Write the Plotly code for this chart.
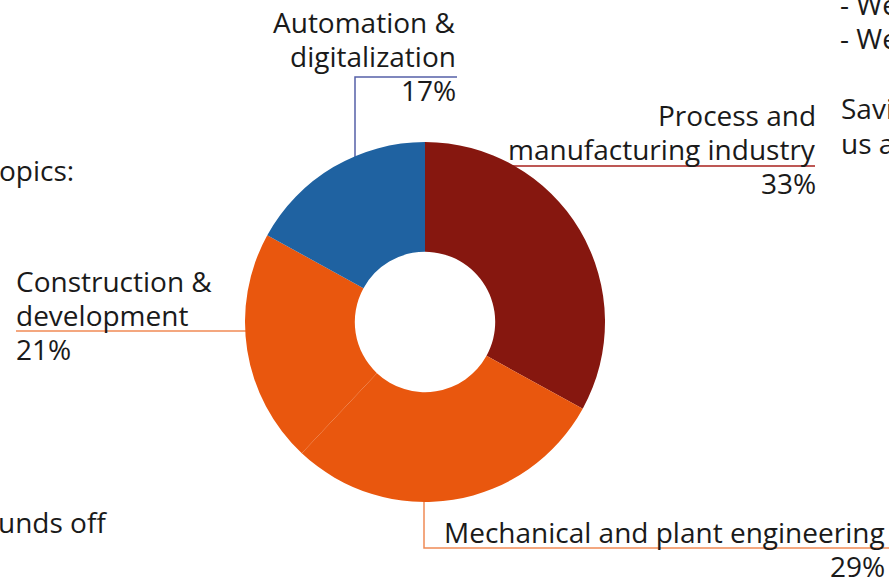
import plotly.graph_objects as go

W, H = 889, 577

# Data
labels = ["Process and<br>manufacturing industry",
          "Mechanical and plant engineering",
          "Construction &<br>development",
          "Automation &<br>digitalization"]
values = [33, 29, 21, 17]
colors = ["#86170F", "#E9570E", "#E9570E", "#1F62A1"]
line_colors = ["#A8201C", "#F08A55", "#F08A55", "#5560A8"]

# Surrounding page text fragments (cut by the frame)
frag_texts = ["opics:", "unds off", "- We", "- We", "Savi", "us a"]


def px(x):
    return x / W


def py(y):
    return 1 - y / H


cx, cy, R = 425, 322, 180

fig = go.Figure(go.Pie(
    labels=[l.replace("<br>", " ") for l in labels],
    values=values,
    hole=0.39,
    sort=False,
    direction="clockwise",
    rotation=0,
    textinfo="none",
    hoverinfo="label+percent",
    marker=dict(colors=colors, line=dict(width=0)),
    domain=dict(x=[px(cx - R), px(cx + R)], y=[py(cy + R), py(cy - R)]),
    showlegend=False,
))

font = dict(family="Open Sans, Noto Sans, sans-serif", size=28, color="#1a1a1a")
LS = 34  # line spacing in px

# label placements: x anchor, first-line centre y
label_pos = [
    dict(x=817, y=115, xanchor="right"),
    dict(x=886, y=532, xanchor="right"),
    dict(x=15, y=281, xanchor="left"),
    dict(x=457, y=22, xanchor="right"),
]
leader_paths = [
    [(503, 166), (815, 166)],
    [(424, 500), (424, 548), (889, 548)],
    [(16, 331), (246, 331)],
    [(457, 77), (355, 77), (355, 157)],
]

annotations = []
shapes = []
for lab, val, pos, path, lc in zip(labels, values, label_pos, leader_paths, line_colors):
    lines = lab.split("<br>") + [f"{val}%"]
    for i, t in enumerate(lines):
        annotations.append(dict(
            x=px(pos["x"]), y=py(pos["y"] + i * LS), xref="paper", yref="paper",
            xanchor=pos["xanchor"], yanchor="middle", borderpad=0,
            text=t, showarrow=False, font=font,
        ))
    d = "M " + " L ".join(f"{px(x)} {py(y)}" for x, y in path)
    shapes.append(dict(type="path", xref="paper", yref="paper", path=d,
                       line=dict(color=lc, width=1.5), layer="below"))

frag_pos = [(-2, 170), (-3, 522), (839, 4), (839, 38), (840, 108), (840, 143)]
for t, (x, y) in zip(frag_texts, frag_pos):
    annotations.append(dict(
        x=px(x), y=py(y), xref="paper", yref="paper", xanchor="left",
        yanchor="middle", borderpad=0, text=t, showarrow=False, font=font,
    ))

fig.update_layout(
    width=W, height=H,
    margin=dict(l=0, r=0, t=0, b=0),
    paper_bgcolor="white", plot_bgcolor="white",
    annotations=annotations, shapes=shapes,
)

fig.write_html(
    "out.html",
    config={"displayModeBar": False},
    post_script="document.body.style.margin='0';document.body.style.overflow='hidden';",
)
